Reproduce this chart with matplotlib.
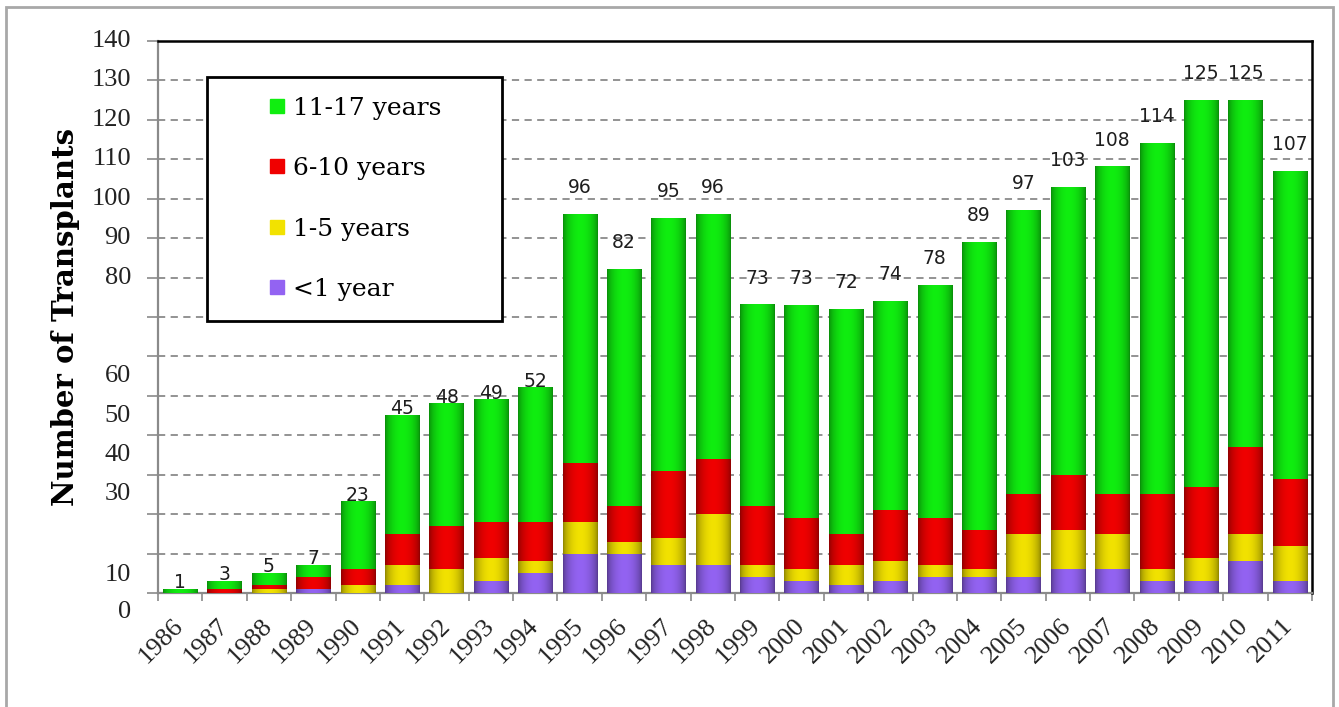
import numpy as np
import matplotlib
matplotlib.use("Agg")
import matplotlib.pyplot as plt
import matplotlib.colors as mcolors
from matplotlib.lines import Line2D
from matplotlib.patches import Rectangle

# =========================
# DATA
# =========================
years = [str(y) for y in range(1986, 2012)]

under_1 = [0, 0, 0, 1, 0, 2, 0, 3, 5, 10, 10, 7, 7, 4, 3, 2, 3, 4, 4, 4, 6, 6, 3, 3, 8, 3]
yrs_1_5 = [0, 0, 1, 0, 2, 5, 6, 6, 3, 8, 3, 7, 13, 3, 3, 5, 5, 3, 2, 11, 10, 9, 3, 6, 7, 9]
yrs_6_10 = [0, 1, 1, 3, 4, 8, 11, 9, 10, 15, 9, 17, 14, 15, 13, 8, 13, 12, 10, 10, 14, 10, 19, 18, 22, 17]
yrs_11_17 = [1, 2, 3, 3, 17, 30, 31, 31, 34, 63, 60, 64, 62, 51, 54, 57, 53, 59, 73, 72, 73, 83, 89, 98, 88, 78]

series_names = ["<1 year", "1-5 years", "6-10 years", "11-17 years"]
series_colors = ["#9363F2", "#F2E200", "#F00000", "#10EE10"]

# y tick labels as printed in the original (their spots are off the grid)
ytick_text = ["140", "130", "120", "110", "100", "90", "80", "60", "50", "40", "30", "10", "0"]
ytick_at = [140, 130, 120, 110, 100, 90, 80, 55, 45, 35, 25, 4.6, -4.7]

# =========================
# FIGURE
# =========================
fig = plt.figure(figsize=(13.39, 7.07), dpi=100)
ax = fig.add_axes([158 / 1339, 114 / 707, 1154 / 1339, 552 / 707])

x = np.arange(len(years))
width = 0.77
series = [under_1, yrs_1_5, yrs_6_10, yrs_11_17]


def shade(patch, color):
    # horizontal "cylinder" shading like the old excel bars
    w, h = patch.get_width(), patch.get_height()
    if h <= 0:
        return
    x0, y0 = patch.get_x(), patch.get_y()
    t = np.linspace(0, 1, 64)
    f = 0.58 + 0.42 * np.sin(np.pi * t) ** 0.6
    rgb = np.array(mcolors.to_rgb(color))
    img = (rgb[None, :] * f[:, None])[None, :, :]
    ax.imshow(img, extent=[x0, x0 + w, y0, y0 + h], aspect="auto",
              interpolation="bilinear", zorder=3)


bottom = np.zeros(len(years))
for vals, col in zip(series, series_colors):
    bars = ax.bar(x, vals, width, bottom=bottom, color=col, edgecolor="none", zorder=2)
    for p in bars:
        shade(p, col)
    bottom = bottom + np.array(vals)

totals = bottom.astype(int)
for i, tot in enumerate(totals):
    off = -2 if i < 9 else 12.5
    ax.annotate(str(tot), (x[i], tot), xytext=(0, off), textcoords="offset points",
                ha="center", va="bottom", fontsize=13.5, family="DejaVu Sans",
                color="#1e1e1e", zorder=5)

ax.set_xlim(-0.5, len(years) - 0.5)
ax.set_ylim(0, 140)

# =========================
# AXES STYLE
# =========================
ax.set_axisbelow(True)
ax.set_yticks([])
ax.set_yticks(np.arange(0, 141, 10), minor=True)
ax.tick_params(axis="y", which="minor", length=8, width=1.2, color="#8a8a8a")
ax.yaxis.grid(True, which="minor", linestyle=(0, (4, 3)), color="#8a8a8a", linewidth=1.3)

trans = ax.get_yaxis_transform()
for txt, yy in zip(ytick_text, ytick_at):
    ax.text(-0.0235, yy, txt, transform=trans, ha="right", va="center",
            fontsize=19, family="Liberation Serif", color="#222222", clip_on=False)

ax.set_xticks(x)
ax.set_xticklabels(years, rotation=45, ha="right", va="center", rotation_mode="anchor",
                   fontsize=19, family="Liberation Serif", color="#222222")
ax.set_xticks(np.arange(-0.5, len(years), 1), minor=True)
ax.tick_params(axis="x", which="major", length=0, pad=21)
ax.tick_params(axis="x", which="minor", length=6, width=1.2, color="#8a8a8a")

for s in ["left", "bottom"]:
    ax.spines[s].set_color("#8a8a8a")
    ax.spines[s].set_linewidth(1.6)
for s in ["top", "right"]:
    ax.spines[s].set_color("black")
    ax.spines[s].set_linewidth(1.8)

ax.set_ylabel("Number of Transplants", fontsize=21, fontweight="bold", family="DejaVu Serif")
ax.yaxis.set_label_coords(-0.068, 0.5)

# =========================
# LEGEND
# =========================
ax.add_patch(Rectangle((0.0425, 0.493), 0.2556, 0.442, transform=ax.transAxes,
                       facecolor="white", edgecolor="black", linewidth=2, zorder=6))
handles = [Line2D([], [], marker="s", linestyle="none", markersize=10,
                  markerfacecolor=c, markeredgecolor=c) for c in series_colors[::-1]]
leg = ax.legend(handles, series_names[::-1], loc="center",
                bbox_to_anchor=(0.0425 + 0.2556 / 2, 0.493 + 0.442 / 2),
                frameon=False, prop={"family": "DejaVu Serif", "size": 18},
                labelspacing=1.5, handlelength=0.8, handletextpad=0.25)
leg.set_zorder(7)

# outer frame of the picture
fig.add_artist(Rectangle((6 / 1339, -0.05), 1327 / 1339, 700 / 707 + 0.05,
                         transform=fig.transFigure, fill=False,
                         edgecolor="#a8a8a8", linewidth=2))

fig.savefig("out.png", dpi=100)
